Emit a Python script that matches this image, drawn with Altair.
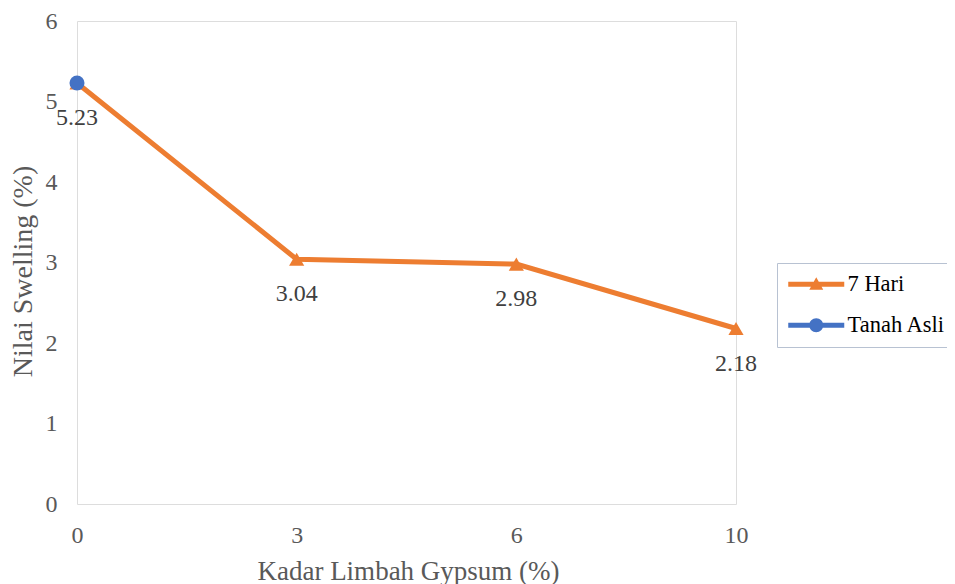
import altair as alt
import pandas as pd

x_labels = ["0", "3", "6", "10"]
hari7_values = [5.23, 3.04, 2.98, 2.18]
tanah_x = ["0"]
tanah_values = [5.23]
series_names = ["7 Hari", "Tanah Asli"]
series_colors = ["#ED7D31", "#4472C4"]

df7 = pd.DataFrame({"x": x_labels, "y": hari7_values, "series": series_names[0],
                    "label": [f"{v:.2f}" for v in hari7_values]})
dft = pd.DataFrame({"x": tanah_x, "y": tanah_values, "series": series_names[1]})
df_all = pd.concat([df7, dft], ignore_index=True)

FONT = "Liberation Serif"
FRAME = "#b8c2d2"

x_enc = alt.X("x:O", sort=x_labels,
              scale=alt.Scale(type="point", domain=x_labels, padding=0),
              axis=alt.Axis(title="Kadar Limbah Gypsum (%)", labelAngle=0,
                            ticks=False, tickSize=0, domain=False,
                            labelFont=FONT, labelFontSize=24, labelColor="#595959",
                            labelBaseline="middle", labelPadding=31,
                            titleFont=FONT, titleFontSize=27, titleColor="#595959",
                            titleFontWeight="normal", titleBaseline="middle",
                            titleX=331, titleY=67))
y_enc = alt.Y("y:Q", scale=alt.Scale(domain=[0, 6], nice=False, zero=True),
              axis=alt.Axis(title="Nilai Swelling (%)", values=[0, 1, 2, 3, 4, 5, 6],
                            grid=False, ticks=False, tickSize=0, domain=False,
                            labelFont=FONT, labelFontSize=24, labelColor="#595959",
                            labelPadding=20,
                            titleFont=FONT, titleFontSize=28, titleColor="#595959",
                            titleFontWeight="normal", titleAngle=-90,
                            titleBaseline="middle", titleAlign="center",
                            titleX=-54, titleY=250))

line = alt.Chart(df7).mark_line(color=series_colors[0], strokeWidth=5).encode(x=x_enc, y=y_enc)
tri = alt.Chart(df7).mark_point(shape="triangle-up", filled=True, size=230,
                                color=series_colors[0], opacity=1).encode(x=x_enc, y=y_enc)
circ = alt.Chart(dft).mark_point(shape="circle", filled=True, size=225,
                                 color=series_colors[1], opacity=1).encode(x=x_enc, y=y_enc)
labels = alt.Chart(df7).mark_text(font=FONT, fontSize=24, color="#404040",
                                  baseline="middle", align="center", dy=35).encode(
    x=x_enc, y=y_enc, text="label:N")

# legend symbols: line segment with marker; unit = 10 px (symbolSize 400)
tri_path = "M-1,-0.25H4.6V0.25H-1Z M1.8,-0.7L2.5,0.55L1.1,0.55Z"
circ_path = "M-1,-0.25H4.6V0.25H-1Z M2.5,0A0.7,0.7 0 1,1 1.1,0A0.7,0.7 0 1,1 2.5,0Z"

leg = alt.Legend(title=None, orient="none", legendX=700, legendY=242, padding=10,
                 strokeColor=FRAME, fillColor="white",
                 labelFont=FONT, labelFontSize=22.5, labelColor="#000000",
                 labelOffset=38, symbolSize=400, symbolStrokeWidth=0,
                 symbolOpacity=1, rowPadding=18)

legend_layer = alt.Chart(df_all).mark_point(filled=True, opacity=0).encode(
    x=x_enc, y=y_enc,
    color=alt.Color("series:N", scale=alt.Scale(domain=series_names, range=series_colors), legend=leg),
    shape=alt.Shape("series:N", scale=alt.Scale(domain=series_names, range=[tri_path, circ_path]), legend=leg),
)

chart = alt.layer(legend_layer, line, tri, circ, labels).properties(
    width=659, height=483,
    autosize=alt.AutoSizeParams(type="none"),
    padding={"left": 69, "top": 13, "right": 211, "bottom": 80},
).configure_view(stroke=FRAME, strokeWidth=2).configure(
    background="white", font=FONT
)

chart.save("out.html", embed_options={"renderer": "svg", "actions": False})
